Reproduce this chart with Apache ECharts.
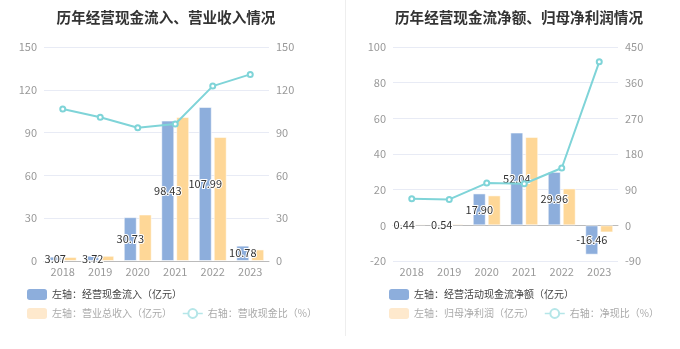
<!DOCTYPE html>
<html><head><meta charset="utf-8">
<script src="https://cdn.jsdelivr.net/npm/echarts@6/dist/echarts.min.js"></script>
<style>html,body{margin:0;padding:0;background:#fff}#c{width:680px;height:349px}</style>
</head><body><div id="c"></div>
<script>
const years = ['2018','2019','2020','2021','2022','2023'];
const inflow = [3.07, 3.72, 30.73, 98.43, 107.99, 10.78];
const revenue = [2.85, 3.65, 32.6, 101.0, 87.0, 8.1];
const cashRatio = [106.5, 100.7, 93.4, 96.0, 122.6, 130.8];
const netCash = [0.44, 0.54, 17.90, 52.04, 29.96, -16.46];
const netProfit = [0.66, 0.82, 16.8, 49.6, 20.7, -3.99];
const netRatio = [67.2, 65.5, 106.7, 105.0, 144.6, 412.6];
const leftTicks = {min: 0, max: 150, interval: 30};
const rightTicks1 = {min: 0, max: 150, interval: 30};
const leftTicks2 = {min: -20, max: 100, interval: 20};
const rightTicks2 = {min: -90, max: 450, interval: 90};

const BLUE = '#8daedc', YEL = '#fed797', LINE = '#7fd4d8';
const FONT = '"Noto Sans CJK SC", "Noto Sans", sans-serif';
const chart = echarts.init(document.getElementById('c'), null, {renderer: 'canvas'});

function yAx(grid, t, pos) {
  return {type: 'value', gridIndex: grid, position: pos, min: t.min, max: t.max, interval: t.interval,
    axisLine: {show: false}, axisTick: {show: false},
    axisLabel: {color: '#999', fontSize: 11, margin: 7, fontFamily: FONT},
    splitLine: {show: pos === 'left', lineStyle: {color: '#e8ebf5', width: 1}}};
}
const barLabel = {show: true, position: 'inside', color: '#333', fontSize: 11, fontFamily: FONT,
  textBorderColor: '#fff', textBorderWidth: 2, formatter: p => p.value.toFixed(2)};

function legendSet(left, top, names, styles) {
  return {left: left, top: top, itemWidth: 20, itemHeight: 11, itemGap: 10, padding: 0,
    textStyle: {fontSize: 10, fontFamily: FONT, color: '#444'},
    data: names.map((n, i) => Object.assign({name: n}, styles[i]))};
}
const FADE_LINE = '#b5e6e8';
const fadedBar = {itemStyle: {color: '#fee9cd', borderWidth: 0}, textStyle: {color: '#aaa'}};
const fadedLine = {itemStyle: {color: FADE_LINE, borderColor: FADE_LINE, borderWidth: 1.5},
  lineStyle: {color: FADE_LINE, width: 1.5}, textStyle: {color: '#aaa'}};
const mainBar = {itemStyle: {color: BLUE, borderWidth: 0}, textStyle: {color: '#444'}};

chart.setOption({
  animation: false,
  title: [
    {text: '历年经营现金流入、营业收入情况', left: 161, top: 5, textAlign: 'center',
     textStyle: {fontSize: 14.6, fontWeight: 'bold', color: '#333', fontFamily: FONT}},
    {text: '历年经营现金流净额、归母净利润情况', left: 514, top: 5, textAlign: 'center',
     textStyle: {fontSize: 14.6, fontWeight: 'bold', color: '#333', fontFamily: FONT}}
  ],
  graphic: [{type: 'line', shape: {x1: 345.5, y1: 0, x2: 345.5, y2: 336}, style: {stroke: '#eeeeee', lineWidth: 1}}],
  legend: [
    legendSet(27, 289, ['左轴：经营现金流入（亿元）'], [mainBar]),
    legendSet(27, 308, ['左轴：营业总收入（亿元）', '右轴：营收现金比（%）'], [fadedBar, fadedLine]),
    legendSet(389, 289, ['左轴：经营活动现金流净额（亿元）'], [mainBar]),
    legendSet(389, 308, ['左轴：归母净利润（亿元）', '右轴：净现比（%）'], [fadedBar, fadedLine])
  ],
  grid: [
    {left: 44, top: 47, width: 225, height: 214},
    {left: 393, top: 47, width: 225, height: 214}
  ],
  xAxis: [
    {type: 'category', gridIndex: 0, data: years,
     axisLine: {lineStyle: {color: '#bbb'}}, axisTick: {alignWithLabel: true, length: 4, lineStyle: {color: '#bbb'}},
     axisLabel: {color: '#999', fontSize: 11, margin: 5, fontFamily: FONT}},
    {type: 'category', gridIndex: 1, data: years, position: 'bottom',
     axisLine: {show: false, onZero: false}, axisTick: {show: false},
     axisLabel: {color: '#999', fontSize: 11, margin: 5, fontFamily: FONT}},
    {type: 'category', gridIndex: 1, data: years, position: 'bottom',
     axisLine: {show: true, onZero: true, onZeroAxisIndex: 2, lineStyle: {color: '#bbb'}},
     axisTick: {alignWithLabel: true, length: 4, lineStyle: {color: '#bbb'}},
     axisLabel: {show: false}}
  ],
  yAxis: [
    yAx(0, leftTicks, 'left'), yAx(0, rightTicks1, 'right'),
    yAx(1, leftTicks2, 'left'), yAx(1, rightTicks2, 'right')
  ],
  series: [
    {name: '左轴：经营现金流入（亿元）', type: 'bar', xAxisIndex: 0, yAxisIndex: 0, data: inflow,
     barWidth: 13, barGap: '15%', itemStyle: {color: BLUE, borderColor: 'rgba(255,255,255,0.55)', borderWidth: 1},
     label: barLabel, z: 2},
    {name: '左轴：营业总收入（亿元）', type: 'bar', xAxisIndex: 0, yAxisIndex: 0, data: revenue,
     barWidth: 13, barGap: '15%', itemStyle: {color: YEL, borderColor: 'rgba(255,255,255,0.55)', borderWidth: 1}, z: 2},
    {name: '右轴：营收现金比（%）', type: 'line', xAxisIndex: 0, yAxisIndex: 1, data: cashRatio,
     symbol: 'emptyCircle', symbolSize: 5, lineStyle: {color: LINE, width: 2},
     itemStyle: {color: LINE, borderColor: LINE, borderWidth: 1.5}, z: 5},
    {name: '左轴：经营活动现金流净额（亿元）', type: 'bar', xAxisIndex: 1, yAxisIndex: 2, data: netCash,
     barWidth: 13, barGap: '15%', itemStyle: {color: BLUE, borderColor: 'rgba(255,255,255,0.55)', borderWidth: 1},
     label: barLabel, z: 2},
    {name: '左轴：归母净利润（亿元）', type: 'bar', xAxisIndex: 1, yAxisIndex: 2, data: netProfit,
     barWidth: 13, barGap: '15%', itemStyle: {color: YEL, borderColor: 'rgba(255,255,255,0.55)', borderWidth: 1}, z: 2},
    {name: '右轴：净现比（%）', type: 'line', xAxisIndex: 1, yAxisIndex: 3, data: netRatio,
     symbol: 'emptyCircle', symbolSize: 5, lineStyle: {color: LINE, width: 2},
     itemStyle: {color: LINE, borderColor: LINE, borderWidth: 1.5}, z: 5}
  ]
});
</script>
</body></html>
